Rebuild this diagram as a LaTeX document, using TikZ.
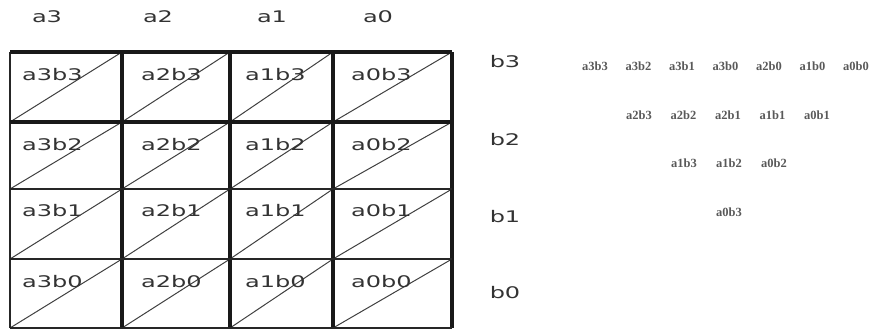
\documentclass[tikz,border=0pt]{standalone}
\usepackage{fontspec}
\newfontfamily\cellfont[FakeStretch=1.5]{DejaVu Sans}
\newfontfamily\smallfont{Liberation Serif}
\begin{document}
\begin{tikzpicture}[x=1pt,y=-1pt,
  gridline/.style={line width=3.6pt,black!90},
  outerline/.style={line width=2.6pt,black!85},
  diagline/.style={line width=1pt,black!75},
  celltext/.style={anchor=west,inner sep=0pt,font=\cellfont\fontsize{16}{16}\selectfont,text=black!80},
  labeltext/.style={anchor=center,inner sep=0pt,font=\cellfont\fontsize{16}{16}\selectfont,text=black!80},
  termtext/.style={anchor=center,inner sep=0pt,font=\smallfont\bfseries\fontsize{12.5}{12.5}\selectfont,text=black!65}]
\useasboundingbox (0,0) rectangle (877,333);
% grid corner coordinates
\def\xs{{10,122,230,333,452}}
\def\ys{{52,122,189,259,328}}
\foreach \i in {0,...,4}{
  \foreach \j in {0,...,4}{
    \pgfmathsetmacro{\xx}{\xs[\i]}
    \pgfmathsetmacro{\yy}{\ys[\j]}
    \coordinate (c\i-\j) at (\xx,\yy);
  }
}
% diagonals
\foreach \i [evaluate=\i as \ii using int(\i+1)] in {0,...,3}{
  \foreach \j [evaluate=\j as \jj using int(\j+1)] in {0,...,3}{
    \draw[diagline] (c\i-\jj) -- (c\ii-\j);
  }
}
% grid lines
\draw[outerline] (c0-0) -- (c0-4);
\draw[gridline] (c1-0) -- (c1-4);
\draw[gridline] (c2-0) -- (c2-4);
\draw[gridline] (c3-0) -- (c3-4);
\draw[gridline] (c4-0) -- (c4-4);
\draw[gridline] (c0-0) -- (c4-0);
\draw[gridline] (c0-1) -- (c4-1);
\draw[outerline] (c0-2) -- (c4-2);
\draw[outerline] (c0-3) -- (c4-3);
\draw[outerline] (c0-4) -- (c4-4);
% column labels
\node[labeltext] (la3) at (47,17) {a3};
\node[labeltext] (la2) at (158,17) {a2};
\node[labeltext] (la1) at (272,17) {a1};
\node[labeltext] (la0) at (378,17) {a0};
% row labels
\node[labeltext] (lb3) at (505,62) {b3};
\node[labeltext] (lb2) at (505,140) {b2};
\node[labeltext] (lb1) at (505,217) {b1};
\node[labeltext] (lb0) at (505,293) {b0};
% cell texts
\foreach \r/\yy/\b in {0/75/3,1/145/2,2/211/1,3/282/0}{
  \node[celltext] (t3\b) at (22,\yy) {a3b\b};
  \node[celltext] (t2\b) at (141,\yy) {a2b\b};
  \node[celltext] (t1\b) at (245,\yy) {a1b\b};
  \node[celltext] (t0\b) at (351,\yy) {a0b\b};
}
% partial product rows
\foreach \t [count=\k from 0] in {a3b3,a3b2,a3b1,a3b0,a2b0,a1b0,a0b0}{
  \node[termtext] (r1-\k) at (595+\k*43.5,66) {\t};
}
\foreach \t [count=\k from 0] in {a2b3,a2b2,a2b1,a1b1,a0b1}{
  \node[termtext] (r2-\k) at (639+\k*44.5,115) {\t};
}
\foreach \t [count=\k from 0] in {a1b3,a1b2,a0b2}{
  \node[termtext] (r3-\k) at (684+\k*45,163) {\t};
}
\node[termtext] (r4-0) at (729,212) {a0b3};
\end{tikzpicture}
\end{document}
